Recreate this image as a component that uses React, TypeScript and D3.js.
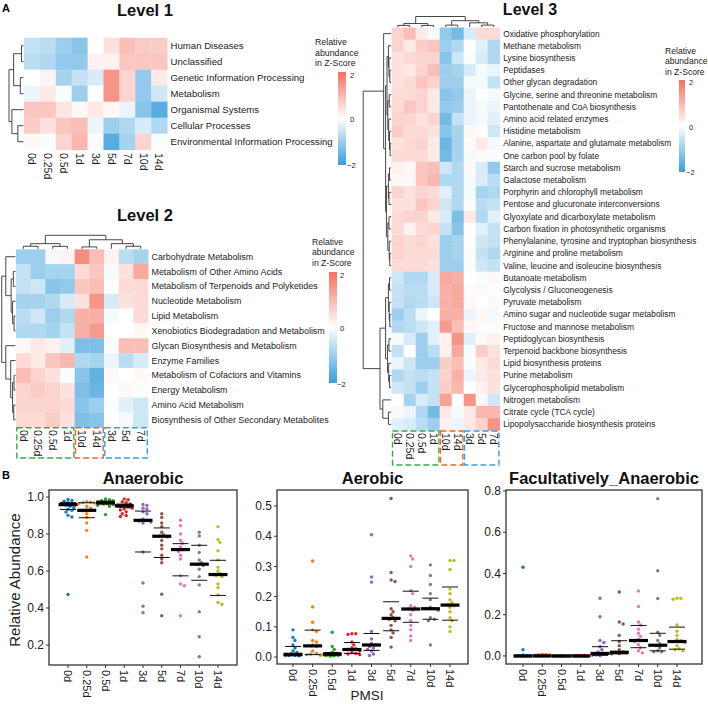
import React from "react";
import * as d3 from "d3";

const FONT = "'Liberation Sans', Arial, Helvetica, sans-serif";

// ---------------- Heatmap data ----------------
const COLS_L1 = ["0d", "0.25d", "0.5d", "1d", "3d", "5d", "7d", "10d", "14d"];
const COLS_L23 = ["0d", "0.25d", "0.5d", "1d", "10d", "14d", "3d", "5d", "7d"];

const ROWS_L1 = [
  "Human Diseases",
  "Unclassified",
  "Genetic Information Processing",
  "Metabolism",
  "Organismal Systems",
  "Cellular Processes",
  "Environmental Information Processing",
];
const VALUES_L1 = [
  [-0.6, -0.7, -1.0, -1.2, 0.0, 0.4, 0.9, 0.7, 0.7],
  [-0.7, -0.8, -1.1, -1.1, 0.2, 0.2, 0.8, 0.8, 0.8],
  [0.0, 0.15, -0.9, -0.6, -0.4, 1.5, 0.6, -1.1, 0.3],
  [-0.2, 0.3, -0.05, -1.0, 0.0, 1.5, 0.6, -1.1, -0.5],
  [0.8, 0.8, 0.35, 0.1, 0.3, 0.1, -0.2, -1.2, -1.7],
  [0.7, 0.4, 0.8, 0.9, -0.2, -1.0, -0.8, -0.4, -0.8],
  [0.1, -0.05, 0.6, 1.0, -0.05, -1.7, -0.9, 0.6, -0.05],
];

const ROWS_L2 = [
  "Carbohydrate Metabolism",
  "Metabolism of Other Amino Acids",
  "Metabolism of Terpenoids and Polyketides",
  "Nucleotide Metabolism",
  "Lipid Metabolism",
  "Xenobiotics Biodegradation and Metabolism",
  "Glycan Biosynthesis and Metabolism",
  "Enzyme Families",
  "Metabolism of Cofactors and Vitamins",
  "Energy Metabolism",
  "Amino Acid Metabolism",
  "Biosynthesis of Other Secondary Metabolites",
];
const VALUES_L2 = [
  [-1.0, -1.0, -0.1, 0.15, 1.6, 0.9, 0.2, -0.7, -0.9],
  [-0.6, -1.0, -0.9, -0.9, 0.5, 0.8, -0.1, 0.4, 1.2],
  [-0.6, -0.5, -1.2, -1.1, 0.8, 0.9, 0.0, 0.5, 0.5],
  [-0.9, -0.9, -0.8, -0.4, 0.4, 1.5, -0.4, 0.4, 0.5],
  [-0.7, -0.5, -1.0, -0.8, 1.1, 1.1, -0.1, 0.0, 0.5],
  [-0.8, -0.8, -0.9, -0.6, 1.1, 1.4, 0.0, 0.0, 0.1],
  [0.1, 0.3, 0.2, -0.3, -1.3, -1.3, -0.05, 0.9, 0.9],
  [0.5, 0.3, 0.8, 1.0, -0.8, -0.9, -0.2, -0.7, -0.4],
  [0.9, 0.6, 0.4, -0.05, -1.2, -1.6, 0.1, 0.0, 0.1],
  [0.6, 0.7, 0.6, 0.4, -1.3, -1.5, 0.0, 0.1, -0.05],
  [0.6, 0.6, 0.6, 0.5, -1.2, -1.0, -0.05, -0.3, -0.5],
  [0.5, 0.5, 0.7, 0.4, -1.3, -1.2, 0.0, -0.1, -0.5],
];

const ROWS_L3 = [
  "Oxidative phosphorylation",
  "Methane metabolism",
  "Lysine biosynthesis",
  "Peptidases",
  "Other glycan degradation",
  "Glycine, serine and threonine metabolism",
  "Pantothenate and CoA biosynthesis",
  "Amino acid related enzymes",
  "Histidine metabolism",
  "Alanine, aspartate and glutamate metabolism",
  "One carbon pool by folate",
  "Starch and sucrose metabolism",
  "Galactose metabolism",
  "Porphyrin and chlorophyll metabolism",
  "Pentose and glucuronate interconversions",
  "Glyoxylate and dicarboxylate metabolism",
  "Carbon fixation in photosynthetic organisms",
  "Phenylalanine, tyrosine and tryptophan biosynthesis",
  "Arginine and proline metabolism",
  "Valine, leucine and isoleucine biosynthesis",
  "Butanoate metabolism",
  "Glycolysis / Gluconeogenesis",
  "Pyruvate metabolism",
  "Amino sugar and nucleotide sugar metabolism",
  "Fructose and mannose metabolism",
  "Peptidoglycan biosynthesis",
  "Terpenoid backbone biosynthesis",
  "Lipid biosynthesis proteins",
  "Purine metabolism",
  "Glycerophospholipid metabolism",
  "Nitrogen metabolism",
  "Citrate cycle (TCA cycle)",
  "Lipopolysaccharide biosynthesis proteins",
];
const VALUES_L3 = [
  [0.6, 0.9, 0.3, -0.1, -1.1, -1.4, -0.4, 0.5, 0.5],
  [0.6, 0.3, 0.7, 0.8, -1.0, -0.8, 0.0, -0.3, -0.8],
  [0.4, 0.5, 0.6, 0.6, -1.2, -0.5, -0.05, -0.4, -0.8],
  [0.4, 0.3, 0.6, 0.9, -1.0, -0.9, -0.4, -0.1, -0.2],
  [0.4, 0.5, 0.8, 0.6, -1.0, -1.0, -0.1, -0.1, -0.6],
  [0.5, 0.5, 0.6, 0.3, -1.2, -1.1, -0.2, 0.0, -0.1],
  [0.5, 0.8, 0.6, 0.3, -1.1, -1.0, -0.2, -0.1, -0.2],
  [0.6, 0.6, 0.4, 0.6, -1.4, -0.6, -0.2, -0.1, -0.3],
  [0.7, 0.5, 0.5, 0.4, -1.2, -0.9, 0.1, 0.0, -0.5],
  [0.4, 0.5, 0.6, 0.3, -1.5, -0.9, 0.05, 0.3, -0.1],
  [0.5, 0.5, 0.5, 0.3, -1.4, -0.9, -0.1, 0.1, -0.05],
  [0.2, 0.1, 0.8, 0.9, -0.5, -0.8, 0.1, -0.4, -1.1],
  [0.1, 0.1, 0.8, 1.0, -0.8, -0.8, -0.1, -0.4, -0.7],
  [0.6, 0.4, 0.6, 0.5, -0.3, -0.8, -0.1, -0.9, -0.8],
  [0.4, 0.4, 0.8, 0.6, -0.5, -0.8, -0.05, -0.7, -0.6],
  [0.5, 0.6, 0.6, 0.3, -0.4, -1.3, 0.3, -0.8, -0.3],
  [0.5, 0.2, 0.5, 0.6, -0.6, -1.2, 0.0, -0.3, -0.6],
  [0.6, 0.5, 0.6, 0.4, -1.0, -0.9, 0.0, -0.5, -0.6],
  [0.6, 0.5, 0.5, 0.5, -1.0, -0.9, -0.05, -0.6, -0.8],
  [0.5, 0.5, 0.5, 0.4, -1.0, -1.0, -0.05, -0.5, -0.6],
  [-0.5, -0.8, -0.8, -0.4, 1.2, 1.1, 0.0, -0.05, 0.1],
  [-0.6, -0.7, -0.7, -0.4, 1.1, 1.2, 0.05, 0.1, 0.0],
  [-0.6, -0.8, -0.7, -0.5, 1.1, 1.2, 0.1, 0.0, 0.1],
  [-1.0, -0.7, -0.2, 0.0, 1.1, 1.1, -0.2, 0.1, -0.1],
  [-0.8, -0.7, -0.5, -0.3, 1.4, 0.9, 0.1, 0.05, -0.05],
  [-0.1, -0.4, -1.0, -0.3, 0.2, 1.5, -0.3, 0.1, 0.2],
  [-0.6, 0.0, -1.0, -0.7, 0.2, 1.2, -0.05, 0.7, 0.4],
  [-0.2, -0.5, -1.0, -1.0, 0.7, 0.9, -0.05, 0.3, 0.5],
  [-0.8, -0.6, -0.7, -0.6, 0.6, 1.1, -0.2, 0.3, 0.4],
  [-0.5, -0.6, -1.0, -0.6, 0.7, 1.0, 0.0, 0.2, 0.4],
  [0.0, -0.9, -0.4, -0.6, 1.3, 0.0, 1.5, -0.1, -0.5],
  [-0.1, -0.2, -0.8, -1.4, 0.3, -0.1, 0.3, 1.0, 1.0],
  [-0.3, -0.4, -0.7, -1.0, 0.2, -0.2, 0.3, 0.6, 1.5],
];

// ---------------- Dendrogram trees ----------------
type Tree = number | { h: number; c: [Tree, Tree] };
const T = (h: number, a: Tree, b: Tree): Tree => ({ h, c: [a, b] });

const ROWTREE_L1 = T(1, T(0.68, T(0.14, 0, 1), T(0.22, 2, 3)), T(0.8, 4, T(0.39, 5, 6)));
const ROWTREE_L2 = T(
  0.95,
  T(0.67, 0, T(0.3, T(0.15, 1, 2), T(0.2, 3, T(0.1, 4, 5)))),
  T(0.67, 6, T(0.33, 7, T(0.2, T(0.1, 8, 9), T(0.12, 10, 11))))
);
const COLTREE_L2 = T(1, T(0.38, T(0.19, 0, 1), T(0.18, 2, 3)), T(0.67, T(0.14, 4, 5), T(0.38, 6, T(0.19, 7, 8))));
const COLTREE_L3 = T(1, T(0.33, T(0.15, 0, 1), T(0.15, 2, 3)), T(0.6, T(0.18, 4, 5), T(0.4, 6, T(0.18, 7, 8))));
const ROWTREE_L3 = T(
  1,
  T(
    0.27,
    0,
    T(
      0.2,
      T(0.15, T(0.1, 1, T(0.08, 2, T(0.05, 3, 4))), T(0.12, T(0.07, 5, 6), T(0.09, 7, T(0.06, 8, T(0.04, 9, 10))))),
      T(0.17, T(0.1, T(0.06, 11, 12), T(0.08, 13, 14)), T(0.12, T(0.08, 15, 16), T(0.07, 17, T(0.05, 18, 19))))
    )
  ),
  T(
    0.4,
    T(0.2, T(0.1, T(0.06, 20, 21), T(0.07, 22, T(0.05, 23, 24))), T(0.13, T(0.08, 25, 26), T(0.09, 27, T(0.06, 28, 29)))),
    T(0.3, 30, T(0.1, 31, 32))
  )
);

// ---------------- Scatter data ----------------
const GROUPS = ["0d", "0.25d", "0.5d", "1d", "3d", "5d", "7d", "10d", "14d"];
const GROUP_COLORS = ["#1f77b4", "#ff7f0e", "#2ca02c", "#d62728", "#9467bd", "#8c564b", "#e377c2", "#7f7f7f", "#bcbd22"];

const ANAEROBIC = [
  [0.987, 0.982, 0.977, 0.969, 0.964, 0.96, 0.959, 0.955, 0.95, 0.942, 0.933, 0.928, 0.919, 0.901, 0.892, 0.473],
  [0.975, 0.972, 0.97, 0.968, 0.965, 0.95, 0.94, 0.93, 0.925, 0.91, 0.89, 0.86, 0.82, 0.676],
  [0.99, 0.985, 0.98, 0.98, 0.975, 0.975, 0.972, 0.97, 0.965, 0.962, 0.96, 0.955, 0.95, 0.905],
  [0.99, 0.985, 0.975, 0.97, 0.962, 0.955, 0.95, 0.945, 0.94, 0.935, 0.93, 0.92, 0.91, 0.9, 0.895],
  [0.96, 0.955, 0.94, 0.935, 0.92, 0.91, 0.88, 0.875, 0.87, 0.865, 0.86, 0.703, 0.535, 0.41, 0.375],
  [0.91, 0.89, 0.86, 0.84, 0.81, 0.795, 0.79, 0.785, 0.765, 0.74, 0.72, 0.685, 0.665, 0.645, 0.475, 0.358],
  [0.875, 0.845, 0.8, 0.765, 0.75, 0.73, 0.715, 0.705, 0.685, 0.665, 0.575, 0.53, 0.52, 0.358],
  [0.81, 0.79, 0.74, 0.7, 0.66, 0.645, 0.635, 0.63, 0.61, 0.57, 0.525, 0.38, 0.245, 0.137],
  [0.84, 0.77, 0.755, 0.71, 0.66, 0.62, 0.6, 0.585, 0.575, 0.57, 0.53, 0.51, 0.47, 0.43, 0.42],
];
const ANAEROBIC_MED = [0.959, 0.928, 0.969, 0.953, 0.874, 0.788, 0.716, 0.637, 0.581];
const ANAEROBIC_LO = [0.933, 0.888, 0.962, 0.945, 0.703, 0.673, 0.574, 0.55, 0.468];
const ANAEROBIC_HI = [0.97, 0.969, 0.978, 0.962, 0.924, 0.833, 0.748, 0.739, 0.658];

const AEROBIC = [
  [0.09, 0.065, 0.055, 0.04, 0.03, 0.02, 0.015, 0.01, 0.008, 0.007, 0.006, 0.005, 0.005, 0.004],
  [0.318, 0.166, 0.115, 0.09, 0.085, 0.055, 0.05, 0.04, 0.035, 0.02, 0.012, 0.01, 0.008, 0.006],
  [0.082, 0.035, 0.025, 0.015, 0.012, 0.01, 0.008, 0.007, 0.006, 0.005, 0.005, 0.004, 0.003],
  [0.077, 0.077, 0.075, 0.05, 0.04, 0.03, 0.028, 0.025, 0.02, 0.015, 0.012, 0.01, 0.008],
  [0.405, 0.265, 0.248, 0.085, 0.06, 0.045, 0.04, 0.035, 0.03, 0.025, 0.02, 0.01, 0.005],
  [0.525, 0.28, 0.255, 0.25, 0.16, 0.15, 0.14, 0.13, 0.125, 0.12, 0.105, 0.09, 0.08, 0.065, 0.033],
  [0.335, 0.325, 0.3, 0.22, 0.21, 0.17, 0.165, 0.16, 0.155, 0.14, 0.12, 0.105, 0.09, 0.07, 0.055],
  [0.305, 0.27, 0.24, 0.21, 0.19, 0.165, 0.16, 0.16, 0.155, 0.13, 0.125, 0.12, 0.04],
  [0.32, 0.32, 0.29, 0.225, 0.21, 0.19, 0.18, 0.175, 0.17, 0.165, 0.15, 0.13, 0.12, 0.1, 0.085],
];
const AEROBIC_MED = [0.009, 0.037, 0.01, 0.025, 0.04, 0.128, 0.159, 0.16, 0.172];
const AEROBIC_LO = [0.004, 0.008, 0.006, 0.012, 0.022, 0.087, 0.115, 0.125, 0.122];
const AEROBIC_HI = [0.035, 0.089, 0.015, 0.048, 0.078, 0.183, 0.218, 0.195, 0.232];

const FACULTATIVE = [
  [0.43, 0.03, 0.005, 0.002, 0.001, 0.001, 0, 0, 0, 0, 0, 0, 0],
  [0.008, 0.007, 0.006, 0.005, 0.004, 0.003, 0.002, 0.001, 0, 0, 0, 0],
  [0.001, 0, 0, 0, 0, 0, 0, 0, 0, 0, 0, 0],
  [0.003, 0.002, 0.002, 0.001, 0.001, 0, 0, 0, 0, 0, 0],
  [0.28, 0.19, 0.075, 0.065, 0.045, 0.03, 0.02, 0.012, 0.01, 0.005, 0.003, 0.001],
  [0.31, 0.165, 0.155, 0.1, 0.07, 0.05, 0.03, 0.02, 0.018, 0.015, 0.012, 0.01],
  [0.315, 0.24, 0.165, 0.15, 0.13, 0.11, 0.095, 0.08, 0.075, 0.07, 0.055, 0.04, 0.025, 0.015],
  [0.763, 0.413, 0.279, 0.115, 0.1, 0.075, 0.06, 0.05, 0.04, 0.025, 0.02, 0.02],
  [0.28, 0.28, 0.275, 0.15, 0.12, 0.1, 0.08, 0.075, 0.07, 0.065, 0.05, 0.035, 0.03, 0.025],
];
const FACULTATIVE_MED = [0, 0, 0, 0, 0.012, 0.018, 0.075, 0.052, 0.07];
const FACULTATIVE_LO = [0, 0, 0, 0, 0.003, 0.01, 0.04, 0.025, 0.033];
const FACULTATIVE_HI = [0.002, 0.004, 0, 0.002, 0.045, 0.074, 0.148, 0.11, 0.14];

// ---------------- helpers ----------------
const BLUE = "#3a9dda";
const RED = "#f2705f";
const heatColor = d3.scaleLinear<string>().domain([-2, 0, 2]).range([BLUE, "#ffffff", RED]).clamp(true);

type Seg = [number, number, number, number];
function dendroSegs(tree: Tree): Seg[] {
  const segs: Seg[] = [];
  const walk = (t: Tree): { pos: number; h: number } => {
    if (typeof t === "number") return { pos: t + 0.5, h: 0 };
    const a = walk(t.c[0]);
    const b = walk(t.c[1]);
    segs.push([a.pos, a.h, a.pos, t.h]);
    segs.push([b.pos, b.h, b.pos, t.h]);
    segs.push([a.pos, t.h, b.pos, t.h]);
    return { pos: (a.pos + b.pos) / 2, h: t.h };
  };
  walk(tree);
  return segs;
}

interface HeatProps {
  x0: number; y0: number; cw: number; ch: number;
  rows: string[]; cols: string[]; values: number[][];
  rowTree: Tree; rowDW: number;
  colTree?: Tree; colDH?: number;
  rowFont: number; colFont: number; colLabelY: number;
  boxes?: { from: number; to: number; color: string }[]; boxBottom?: number;
}

function Heatmap(p: HeatProps) {
  const nR = p.rows.length, nC = p.cols.length;
  const xs = d3.scaleLinear().domain([0, nC]).range([p.x0, p.x0 + nC * p.cw]);
  const ys = d3.scaleLinear().domain([0, nR]).range([p.y0, p.y0 + nR * p.ch]);
  const rh = d3.scaleLinear().domain([0, 1]).range([p.x0 - 0.5, p.x0 - p.rowDW]);
  const rowSegs = dendroSegs(p.rowTree);
  const colSegs = p.colTree ? dendroSegs(p.colTree) : [];
  const ch = d3.scaleLinear().domain([0, 1]).range([p.y0 - 0.5, p.y0 - (p.colDH || 0)]);
  return (
    <g>
      {p.values.map((row, i) =>
        row.map((v, j) => (
          <rect key={`c${i}-${j}`} x={xs(j)} y={ys(i)} width={p.cw + 0.4} height={p.ch + 0.4} fill={heatColor(v)} />
        ))
      )}
      {rowSegs.map((s, k) => (
        <line key={`r${k}`} x1={rh(s[1])} y1={ys(s[0])} x2={rh(s[3])} y2={ys(s[2])} stroke="#333" strokeWidth={0.9} />
      ))}
      {colSegs.map((s, k) => (
        <line key={`cs${k}`} x1={xs(s[0])} y1={ch(s[1])} x2={xs(s[2])} y2={ch(s[3])} stroke="#333" strokeWidth={0.9} />
      ))}
      {p.rows.map((r, i) => (
        <text key={`rl${i}`} x={xs(nC) + 3.5} y={ys(i + 0.5)} dy="0.35em" fontSize={p.rowFont} fill="#222" fontFamily={FONT}>
          {r}
        </text>
      ))}
      {p.cols.map((c, j) => (
        <text
          key={`cl${j}`}
          transform={`translate(${xs(j + 0.5)},${p.colLabelY}) rotate(90)`}
          dy="0.35em"
          fontSize={p.colFont}
          fill="#222"
          fontFamily={FONT}
        >
          {c}
        </text>
      ))}
      {(p.boxes || []).map((b, k) => (
        <rect
          key={`b${k}`}
          x={xs(b.from) + 0.8}
          y={ys(nR) + 0.5}
          width={xs(b.to) - xs(b.from) - 1.6}
          height={(p.boxBottom || 0) - ys(nR) - 0.5}
          fill="none"
          stroke={b.color}
          strokeWidth={1.4}
          strokeDasharray="6,3"
        />
      ))}
    </g>
  );
}

function Legend({ id, tx, ty, bx, by, bw, bh, lx, l2, l0, lm2, fs }: any) {
  const stops = d3.range(0, 11).map((i) => ({ off: i / 10, c: heatColor(2 - (4 * i) / 10) }));
  return (
    <g fontFamily={FONT} fill="#222">
      <defs>
        <linearGradient id={id} x1="0" y1="0" x2="0" y2="1">
          {stops.map((s, i) => (
            <stop key={i} offset={s.off} stopColor={s.c} />
          ))}
        </linearGradient>
      </defs>
      {["Relative", "abundance", "in Z-Score"].map((t, i) => (
        <text key={i} x={tx} y={ty + i * fs * 1.2} fontSize={fs}>
          {t}
        </text>
      ))}
      <rect x={bx} y={by} width={bw} height={bh} fill={`url(#${id})`} />
      <text x={lx} y={l2} dy="0.35em" fontSize={7.5}>2</text>
      <text x={lx} y={l0} dy="0.35em" fontSize={7.5}>0</text>
      <text x={lx - 3} y={lm2} dy="0.35em" fontSize={7.5}>−2</text>
    </g>
  );
}

function swarm(vals: number[], ys: (v: number) => number, r: number, maxOff: number): number[] {
  const idx = vals.map((_, i) => i).sort((a, b) => vals[b] - vals[a]);
  const placed: { x: number; y: number }[] = [];
  const offs = new Array(vals.length).fill(0);
  const step = r * 1.15;
  idx.forEach((i) => {
    const y = ys(vals[i]);
    const cands: number[] = [0];
    for (let k = 1; k * step <= maxOff; k++) cands.push(k * step, -k * step);
    let best = 0, bestD = -1;
    for (const c of cands) {
      let md = Infinity;
      for (const q of placed) md = Math.min(md, Math.hypot(q.x - c, q.y - y));
      if (md >= 2 * r * 0.95) { best = c; bestD = Infinity; break; }
      if (md > bestD) { bestD = md; best = c; }
    }
    offs[i] = best;
    placed.push({ x: best, y });
  });
  return offs;
}

function Scatter({ x, y, w, h, xr, domain, ticks, fmt, data, med, lo, hi, title }: any) {
  const xs = d3.scalePoint<string>().domain(GROUPS).range(xr);
  const ys = d3.scaleLinear().domain(domain).range([y + h, y]);
  const r = 1.7;
  return (
    <g fontFamily={FONT}>
      <text x={x + w / 2} y={y - 6} textAnchor="middle" fontSize={16.5} fontWeight="bold" fill="#111">
        {title}
      </text>
      {data.map((vals: number[], gi: number) => {
        const cx = xs(GROUPS[gi]) as number;
        const offs = swarm(vals, ys, r, 9);
        return (
          <g key={gi}>
            {vals.map((v, k) => (
              <circle key={k} cx={cx + offs[k]} cy={ys(v)} r={r} fill={GROUP_COLORS[gi]} />
            ))}
          </g>
        );
      })}
      {GROUPS.map((g, gi) => {
        const cx = xs(g) as number;
        return (
          <g key={`m${gi}`}>
            <line x1={cx - 8} x2={cx + 8} y1={ys(lo[gi])} y2={ys(lo[gi])} stroke="#111" strokeWidth={1} />
            <line x1={cx - 8} x2={cx + 8} y1={ys(hi[gi])} y2={ys(hi[gi])} stroke="#111" strokeWidth={1} />
            <line x1={cx - 9.5} x2={cx + 9.5} y1={ys(med[gi])} y2={ys(med[gi])} stroke="#000" strokeWidth={3.2} />
          </g>
        );
      })}
      <rect x={x} y={y} width={w} height={h} fill="none" stroke="#333" strokeWidth={1.3} />
      {ticks.map((t: number) => (
        <g key={t}>
          <line x1={x - 3} x2={x} y1={ys(t)} y2={ys(t)} stroke="#333" strokeWidth={1} />
          <text x={x - 5} y={ys(t)} dy="0.35em" textAnchor="end" fontSize={12} fill="#222">
            {fmt(t)}
          </text>
        </g>
      ))}
      {GROUPS.map((g) => (
        <g key={`x${g}`}>
          <line x1={xs(g)} x2={xs(g)} y1={y + h} y2={y + h + 3} stroke="#333" strokeWidth={1} />
          <text transform={`translate(${xs(g)},${y + h + 5}) rotate(90)`} dy="0.35em" fontSize={11} fill="#222">
            {g}
          </text>
        </g>
      ))}
    </g>
  );
}

const f1 = d3.format(".1f");

export default function App() {
  return (
    <svg width={708} height={704} style={{ position: "absolute", left: 0, top: 0, background: "#fff" }} fontFamily={FONT}>
      <rect width={708} height={704} fill="#fff" />
      <text x={2} y={12} fontSize={11} fontWeight="bold">A</text>
      <text x={2} y={479} fontSize={11} fontWeight="bold">B</text>

      {/* Level 1 */}
      <text x={145} y={16} textAnchor="middle" fontSize={16.5} fontWeight="bold" fill="#111">Level 1</text>
      <Heatmap
        x0={24} y0={37.7} cw={15.9} ch={16}
        rows={ROWS_L1} cols={COLS_L1} values={VALUES_L1}
        rowTree={ROWTREE_L1} rowDW={15}
        rowFont={9.6} colFont={10.5} colLabelY={153}
      />
      <Legend id="g1" tx={315} ty={45} fs={8.8} bx={338} by={72} bw={8} bh={93} lx={350} l2={75} l0={119} lm2={165} />

      {/* Level 2 */}
      <text x={145} y={221} textAnchor="middle" fontSize={16.5} fontWeight="bold" fill="#111">Level 2</text>
      <Heatmap
        x0={16} y0={249.3} cw={14.67} ch={14.83}
        rows={ROWS_L2} cols={COLS_L23} values={VALUES_L2}
        rowTree={ROWTREE_L2} rowDW={15}
        colTree={COLTREE_L2} colDH={14}
        rowFont={8.9} colFont={10.5} colLabelY={430}
        boxes={[{ from: 0, to: 4, color: "#3aaa4a" }, { from: 4, to: 6, color: "#e8692a" }, { from: 6, to: 9, color: "#3d9be0" }]}
        boxBottom={458}
      />
      <Legend id="g2" tx={312} ty={245} fs={8.6} bx={329} by={272} bw={8} bh={111} lx={340} l2={275} l0={328} lm2={384} />

      {/* Level 3 */}
      <text x={530} y={14.5} textAnchor="middle" fontSize={16} fontWeight="bold" fill="#111">Level 3</text>
      <Heatmap
        x0={391.7} y0={27.5} cw={12} ch={12.21}
        rows={ROWS_L3} cols={COLS_L23} values={VALUES_L3}
        rowTree={ROWTREE_L3} rowDW={28.5}
        colTree={COLTREE_L3} colDH={11}
        rowFont={8.4} colFont={10.5} colLabelY={433}
        boxes={[{ from: 0, to: 4, color: "#3aaa4a" }, { from: 4, to: 6, color: "#e8692a" }, { from: 6, to: 9, color: "#3d9be0" }]}
        boxBottom={465}
      />
      <Legend id="g3" tx={665} ty={54} fs={8.6} bx={679} by={80} bw={6} bh={92} lx={689} l2={82} l0={127} lm2={172} />

      {/* Panel B */}
      <Scatter
        x={49} y={490} w={188} h={175} xr={[68, 218]} domain={[0.092, 1.038]}
        ticks={[0.2, 0.4, 0.6, 0.8, 1.0]} fmt={f1}
        data={ANAEROBIC} med={ANAEROBIC_MED} lo={ANAEROBIC_LO} hi={ANAEROBIC_HI} title="Anaerobic"
      />
      <Scatter
        x={277} y={490} w={191} h={174} xr={[293, 450]} domain={[-0.023, 0.553]}
        ticks={[0, 0.1, 0.2, 0.3, 0.4, 0.5]} fmt={f1}
        data={AEROBIC} med={AEROBIC_MED} lo={AEROBIC_LO} hi={AEROBIC_HI} title="Aerobic"
      />
      <Scatter
        x={506} y={490} w={196} h={174} xr={[523, 677]} domain={[-0.039, 0.805]}
        ticks={[0, 0.2, 0.4, 0.6, 0.8]} fmt={f1}
        data={FACULTATIVE} med={FACULTATIVE_MED} lo={FACULTATIVE_LO} hi={FACULTATIVE_HI} title="Facultatively_Anaerobic"
      />
      <text transform="translate(20,580) rotate(-90)" textAnchor="middle" fontSize={15} fill="#222">Relative Abundance</text>
      <text x={367} y={700} textAnchor="middle" fontSize={13.5} fill="#222">PMSI</text>
    </svg>
  );
}
